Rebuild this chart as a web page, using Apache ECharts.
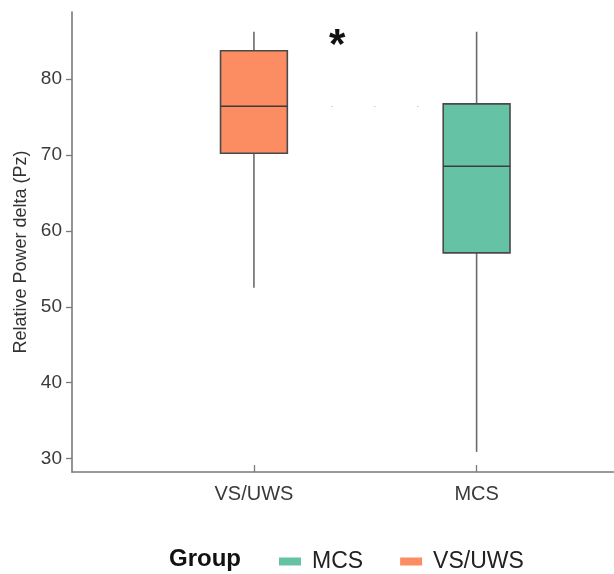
<!DOCTYPE html>
<html>
<head>
<meta charset="utf-8">
<script src="https://cdn.jsdelivr.net/npm/echarts@6/dist/echarts.min.js"></script>
<style>
  html, body { margin: 0; padding: 0; background: #fff; }
  #chart { width: 614px; height: 574px; }
</style>
</head>
<body>
<div id="chart"></div>
<script>
// box stats per group
const groups = ["VS/UWS", "MCS"];
const groupPos = [1, 2];
const lowerWhisker = [52.5, 30.9];
const q1 = [70.2, 57.1];
const median = [76.4, 68.5];
const q3 = [83.7, 76.7];
const upperWhisker = [86.2, 86.2];
const colors = { "VS/UWS": "#fc8d62", "MCS": "#66c2a5" };
const yTicks = [30, 40, 50, 60, 70, 80];
const legendOrder = ["MCS", "VS/UWS"];

const font = "Liberation Sans";

function boxItem(params, api) {
  const x = api.value(0);
  const lo = api.coord([x, api.value(1)]);
  const b1 = api.coord([x, api.value(2)]);
  const md = api.coord([x, api.value(3)]);
  const b3 = api.coord([x, api.value(4)]);
  const hi = api.coord([x, api.value(5)]);
  const half = api.size([0.3, 0])[0] / 2;
  const cx = lo[0];
  const whisker = { stroke: "#6b6b6b", lineWidth: 1.6 };
  return {
    type: "group",
    children: [
      { type: "line", shape: { x1: cx, y1: hi[1], x2: cx, y2: b3[1] }, style: whisker },
      { type: "line", shape: { x1: cx, y1: b1[1], x2: cx, y2: lo[1] }, style: whisker },
      {
        type: "rect",
        shape: { x: cx - half, y: b3[1], width: half * 2, height: b1[1] - b3[1] },
        style: { fill: api.visual("color"), stroke: "#4a4a4a", lineWidth: 1.6 }
      },
      {
        type: "line",
        shape: { x1: cx - half, y1: md[1], x2: cx + half, y2: md[1] },
        style: { stroke: "#3c3c3c", lineWidth: 1.6 }
      }
    ]
  };
}

const series = legendOrder.map((name) => {
  const i = groups.indexOf(name);
  return {
    name: name,
    type: "custom",
    itemStyle: { color: colors[name] },
    renderItem: boxItem,
    encode: { x: 0, y: [1, 2, 3, 4, 5] },
    data: [[groupPos[i], lowerWhisker[i], q1[i], median[i], q3[i], upperWhisker[i]]]
  };
});

// faint dotted guide at the VS/UWS median level
series.push({
  type: "line",
  data: [],
  silent: true,
  markLine: {
    symbol: "none",
    silent: true,
    label: { show: false },
    lineStyle: { color: "#c8c8c8", width: 1.2, type: [1.5, 41.5] },
    data: [[{ coord: [1.346, median[0]] }, { coord: [1.76, median[0]] }]]
  }
});

const option = {
  animation: false,
  textStyle: { fontFamily: font },
  grid: { left: 72, right: 0, top: 12, bottom: 102 },
  title: {
    text: "Group",
    left: 164,
    top: 542,
    textStyle: { fontFamily: font, fontSize: 24, fontWeight: "bold", color: "#111" }
  },
  legend: {
    data: legendOrder,
    left: 274,
    top: 545,
    icon: "rect",
    itemWidth: 22,
    itemHeight: 8,
    itemGap: 37,
    textStyle: { fontFamily: font, fontSize: 23, color: "#222", padding: [0, 0, 0, 6] }
  },
  graphic: [
    {
      type: "text",
      left: 329,
      top: 25,
      style: { text: "*", font: "bold 42px " + font, fill: "#111" }
    }
  ],
  xAxis: {
    type: "value",
    min: 0.183,
    max: 2.617,
    splitLine: { show: false },
    axisLine: { show: true, lineStyle: { color: "#7a7a7a", width: 1.6 } },
    axisTick: { show: true, inside: true, length: 7, customValues: groupPos, lineStyle: { color: "#7a7a7a", width: 1.3 } },
    axisLabel: {
      customValues: groupPos,
      margin: 12,
      fontSize: 20,
      color: "#3a3a3a",
      fontFamily: font,
      formatter: (v) => groups[groupPos.indexOf(v)] || ""
    }
  },
  yAxis: {
    type: "value",
    min: 28.25,
    max: 88.8,
    name: "Relative Power delta (Pz)",
    nameLocation: "middle",
    nameGap: 42,
    nameTextStyle: { fontFamily: font, fontSize: 18, color: "#333", padding: [0, 20, 0, 0] },
    splitLine: { show: false },
    axisLine: { show: true, lineStyle: { color: "#7a7a7a", width: 1.6 } },
    axisTick: { show: true, length: 6, customValues: yTicks, lineStyle: { color: "#7a7a7a", width: 1.3 } },
    axisLabel: { customValues: yTicks, margin: 10, fontSize: 19, color: "#3a3a3a", fontFamily: font }
  },
  series: series
};

const chart = echarts.init(document.getElementById("chart"));
chart.setOption(option);
</script>
</body>
</html>
